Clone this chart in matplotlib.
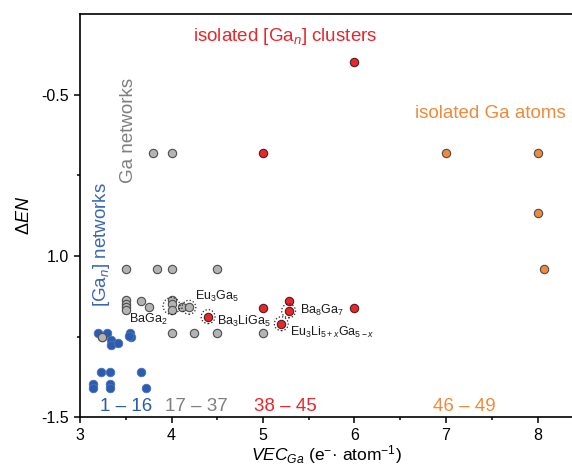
import matplotlib
matplotlib.use("Agg")
import matplotlib.pyplot as plt
from matplotlib.ticker import FixedLocator

plt.rcParams["font.family"] = ["Liberation Sans", "DejaVu Sans"]
plt.rcParams["mathtext.fontset"] = "custom"
plt.rcParams["mathtext.rm"] = "Liberation Sans"
plt.rcParams["mathtext.it"] = "Liberation Sans:italic"

# ----------------------
# data (VEC_Ga, dEN)
# ----------------------
blue_x = [3.20, 3.29, 3.24, 3.335, 3.335, 3.41, 3.546, 3.557, 3.54,
          3.226, 3.33, 3.663, 3.139, 3.139, 3.33, 3.33, 3.72]
blue_y = [-1.240, -1.240, -1.250, -1.260, -1.276, -1.269, -1.238, -1.250, -1.247,
          -1.359, -1.359, -1.359, -1.398, -1.408, -1.398, -1.408, -1.410]

gray_x = [3.8, 4.0,
          3.5, 3.845, 4.0, 4.5,
          3.5, 3.5, 3.5, 3.5, 3.67, 3.75,
          4.0, 4.0, 4.0, 4.11, 4.19,
          4.0, 4.25, 4.5, 5.0, 3.244]
gray_y = [-0.68, -0.68,
          -1.04, -1.04, -1.04, -1.04,
          -1.136, -1.148, -1.159, -1.167, -1.138, -1.159,
          -1.136, -1.150, -1.167, -1.159, -1.159,
          -1.24, -1.24, -1.24, -1.24, -1.250]

red_x = [5.0, 6.0, 4.40, 5.0, 5.28, 5.28, 5.20, 6.0]
red_y = [-0.68, -0.40, -1.188, -1.16, -1.14, -1.17, -1.21, -1.16]

orange_x = [7.0, 8.0, 8.0, 8.07]
orange_y = [-0.68, -0.68, -0.866, -1.04]

# compounds highlighted with dotted rings
comp_names = ["BaGa$_2$", "Eu$_3$Ga$_5$", "Ba$_3$LiGa$_5$", "Ba$_8$Ga$_7$",
              "Eu$_3$Li$_{5+x}$Ga$_{5-x}$"]
comp_x = [4.0, 4.19, 4.40, 5.28, 5.20]
comp_y = [-1.155, -1.159, -1.188, -1.17, -1.21]
label_x = [3.96, 4.26, 4.50, 5.40, 5.29]
label_y = [-1.198, -1.124, -1.204, -1.169, -1.237]
label_ha = ["right", "left", "left", "left", "left"]

c_blue = "#2b5cae"
c_gray = "#b3b3b3"
c_red = "#e8262b"
c_orange = "#f08a3a"

fig = plt.figure(figsize=(5.72, 4.68), dpi=100)
ax = fig.add_axes([80 / 572, 1 - 417.3 / 468, 1 - 80 / 572, (417.3 - 14) / 468])

ax.scatter(blue_x, blue_y, s=38, color=c_blue, edgecolors="#4a72b8", linewidths=0.6, zorder=3)
ax.scatter(gray_x, gray_y, s=36, color=c_gray, edgecolors="#4d4d4d", linewidths=0.8, zorder=4)
ax.scatter(red_x, red_y, s=36, color=c_red, edgecolors="#4d2020", linewidths=0.8, zorder=4)
ax.scatter(orange_x, orange_y, s=36, color=c_orange, edgecolors="#4d4d4d", linewidths=0.8, zorder=4)

ring_sizes = [150, 100, 100, 100, 100]
ax.scatter(comp_x, comp_y, s=ring_sizes, facecolors="none", edgecolors="#222222",
           linewidths=0.9, linestyles=":", zorder=5)
for name, x, y, ha in zip(comp_names, label_x, label_y, label_ha):
    ax.text(x, y, name, fontsize=9, ha=ha, va="center", color="#1a1a1a", zorder=6)

# group labels
ax.text(5.24, -0.321, "isolated [Ga$_n$] clusters", color=c_red, fontsize=13.5,
        ha="center", va="center")
ax.text(7.48, -0.557, "isolated Ga atoms", color=c_orange, fontsize=13.5,
        ha="center", va="center")
ax.text(3.525, -0.61, "Ga networks", color="#7f7f7f", fontsize=13.5, rotation=90,
        ha="center", va="center")
ax.text(3.237, -0.964, "[Ga$_n$] networks", color="#3a66b8", fontsize=13.5, rotation=90,
        ha="center", va="center")

ranges = ["1 – 16", "17 – 37", "38 – 45", "46 – 49"]
range_x = [3.50, 4.275, 5.25, 7.20]
range_c = [c_blue, "#7f7f7f", c_red, c_orange]
for r, x, c in zip(ranges, range_x, range_c):
    ax.text(x, -1.468, r, color=c, fontsize=13.5, ha="center", va="center")

ax.set_xlim(3, 3 + 492 / 91.5)
ax.set_ylim(-1.5, -0.25)
ax.xaxis.set_major_locator(FixedLocator([3, 4, 5, 6, 7, 8]))
ax.xaxis.set_minor_locator(FixedLocator([3.5, 4.5, 5.5, 6.5, 7.5]))
ax.set_yticks([-1.5, -1.0, -0.5])
ax.set_yticklabels(["-1.5", "1.0", "-0.5"])
ax.yaxis.set_minor_locator(FixedLocator([-1.25, -0.75]))

ax.spines["right"].set_visible(False)
for s in ["left", "top", "bottom"]:
    ax.spines[s].set_linewidth(1.2)
ax.tick_params(which="major", length=4.5, width=1.1, labelsize=11.5, direction="out")
ax.tick_params(which="minor", length=2.5, width=1.1, direction="out")

ax.set_xlabel("$VEC_{Ga}$ (e$^{-}$· atom$^{-1}$)", fontsize=12.5, labelpad=0)
ax.set_ylabel("Δ$EN$", fontsize=13, labelpad=6)

fig.savefig("out.png", dpi=100)
